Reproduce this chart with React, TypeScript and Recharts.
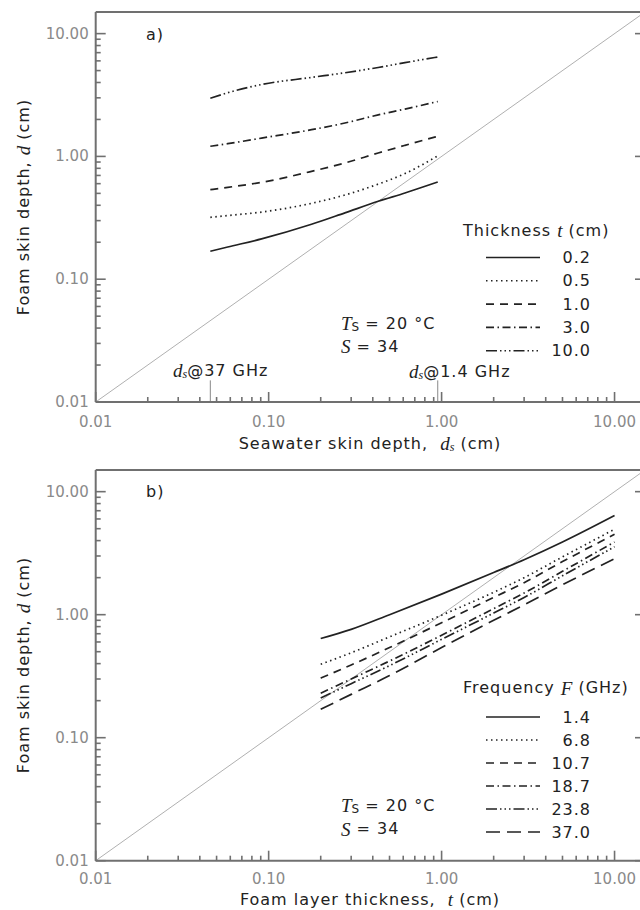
import { LineChart, Line, XAxis, YAxis, ReferenceLine, Customized } from 'recharts';

// panel a: foam skin depth vs seawater skin depth, one curve per foam thickness
const seawaterDepth = [0.046, 0.058, 0.091, 0.177, 0.276, 0.43, 0.614, 0.95];
const thicknessLabels = ['0.2', '0.5', '1.0', '3.0', '10.0'];
const depthT02 = [0.169, 0.183, 0.213, 0.28, 0.347, 0.431, 0.504, 0.619];
const depthT05 = [0.319, 0.33, 0.352, 0.415, 0.485, 0.595, 0.725, 1.01];
const depthT10 = [0.536, 0.56, 0.615, 0.755, 0.884, 1.066, 1.23, 1.46];
const depthT30 = [1.21, 1.27, 1.41, 1.65, 1.87, 2.18, 2.43, 2.8];
const depthT100 = [2.98, 3.3, 3.85, 4.4, 4.8, 5.3, 5.8, 6.45];

// panel b: foam skin depth vs foam thickness, one curve per frequency
const foamThickness = [0.2, 0.3, 0.5, 1, 2, 3, 5, 10];
const frequencyLabels = ['1.4', '6.8', '10.7', '18.7', '23.8', '37.0'];
const depthF14 = [0.64, 0.76, 1.0, 1.47, 2.2, 2.8, 3.9, 6.4];
const depthF68 = [0.395, 0.49, 0.66, 0.99, 1.52, 2.0, 2.95, 4.95];
const depthF107 = [0.305, 0.39, 0.54, 0.86, 1.38, 1.82, 2.7, 4.5];
const depthF187 = [0.23, 0.3, 0.42, 0.68, 1.12, 1.5, 2.25, 3.9];
const depthF238 = [0.21, 0.275, 0.385, 0.63, 1.03, 1.38, 2.07, 3.57];
const depthF370 = [0.17, 0.225, 0.32, 0.54, 0.9, 1.2, 1.75, 2.85];

// seawater skin depth markers on panel a
const markerDepths = [0.046, 0.95];
const markerFreqs = ['37', '1.4'];

const majorTicks = [0.01, 0.1, 1, 10];
const minorSteps = [2, 3, 4, 5, 6, 7, 8, 9];
const axisMin = 0.01;
const axisMax = 15;

const DASH: Record<string, string | undefined> = {
  solid: undefined,
  dotted: '1.5 3.5',
  dashed: '8 6',
  dashDot: '8 3.5 1.5 3.5',
  dashDot3: '11 3 1.5 3 1.5 3 1.5 3',
  longDash: '14 7',
};

const INK = '#222';
const AXIS = '#707070';
const TICK_TEXT = '#8a8a8a';
const SANS = '"DejaVu Sans", sans-serif';
const SERIF = '"Liberation Serif", serif';

const tickValues = [
  ...majorTicks,
  ...majorTicks.slice(0, 3).flatMap((d) => minorSteps.map((k) => +(k * d).toPrecision(3))),
].sort((a, b) => a - b);

type Side = 'bottom' | 'top' | 'left' | 'right';

function makeTick(side: Side, labelGap = 19) {
  return (props: any) => {
    const { x, y, payload } = props;
    const v = payload.value as number;
    const major = majorTicks.some((m) => Math.abs(m - v) < 1e-9);
    const len = major ? 10 : 5;
    let x2 = x;
    let y2 = y;
    if (side === 'bottom') y2 = y - len;
    if (side === 'top') y2 = y + len;
    if (side === 'left') x2 = x + len;
    if (side === 'right') x2 = x - len;
    const label = v.toFixed(2);
    return (
      <g>
        <line x1={x} y1={y} x2={x2} y2={y2} stroke={AXIS} strokeWidth={1.6} />
        {major && side === 'bottom' && (
          <text x={x} y={y + labelGap} textAnchor="middle" dominantBaseline="central"
            fontFamily={SANS} fontSize={15} fill={TICK_TEXT}>{label}</text>
        )}
        {major && side === 'left' && (
          <text x={x - 7} y={y} textAnchor="end" dominantBaseline="central"
            fontFamily={SANS} fontSize={15} fill={TICK_TEXT}>{label}</text>
        )}
      </g>
    );
  };
}

interface Series { key: string; label: string; values: number[]; dash?: string }

interface PanelText {
  tag: string;
  tagY: number;
  yTitleY: number;
  xTitleY: number;
  condY: number;
  legendTitle: 'thickness' | 'frequency';
  legendTitleY: number;
  legendY0: number;
  legendStep: number;
  xTitle: 'seawater' | 'foam';
  markers: boolean;
}

const txt = { fontFamily: SANS, fontSize: 16, fill: INK, letterSpacing: 1, whiteSpace: 'pre' as const };
const ital = { fontFamily: SERIF, fontStyle: 'italic' as const, fontSize: 19, letterSpacing: 0 };

function Annotations({ cfg, series }: { cfg: PanelText; series: Series[] }) {
  return (
    <g>
      <text x={146} y={cfg.tagY} dominantBaseline="central" style={txt}>{cfg.tag}</text>

      <text x={23} y={cfg.yTitleY} textAnchor="middle" dominantBaseline="central" style={txt}
        transform={`rotate(-90, 23, ${cfg.yTitleY})`}>
        Foam skin depth, <tspan style={ital}>d</tspan> (cm)
      </text>

      {cfg.xTitle === 'seawater' ? (
        <text x={370} y={cfg.xTitleY} textAnchor="middle" dominantBaseline="central" style={txt}>
          {'Seawater skin depth,  '}
          <tspan style={ital}>d</tspan>
          <tspan style={{ ...ital, fontSize: 12 }} dy={4}>s</tspan>
          <tspan dy={-4}>{' (cm)'}</tspan>
        </text>
      ) : (
        <text x={370} y={cfg.xTitleY} textAnchor="middle" dominantBaseline="central" style={txt}>
          {'Foam layer thickness,  '}
          <tspan style={ital}>t</tspan>
          {' (cm)'}
        </text>
      )}

      <text x={341} y={cfg.condY} dominantBaseline="central" style={txt}>
        <tspan style={ital}>T</tspan>
        <tspan style={{ fontSize: 12, letterSpacing: 0 }} dy={4}>S</tspan>
        <tspan dy={-4}>{' = 20 °C'}</tspan>
      </text>
      <text x={341} y={cfg.condY + 23.3} dominantBaseline="central" style={txt}>
        <tspan style={ital}>S</tspan>
        {' = 34'}
      </text>

      {cfg.markers && (
        <>
          <text x={173} y={370} dominantBaseline="central" style={txt}>
            <tspan style={ital}>d</tspan>
            <tspan style={{ ...ital, fontSize: 12 }} dy={4}>s</tspan>
            <tspan dy={-4}>{`@${markerFreqs[0]} GHz`}</tspan>
          </text>
          <text x={409} y={371} dominantBaseline="central" style={txt}>
            <tspan style={ital}>d</tspan>
            <tspan style={{ ...ital, fontSize: 12 }} dy={4}>s</tspan>
            <tspan dy={-4}>{`@${markerFreqs[1]} GHz`}</tspan>
          </text>
        </>
      )}

      {/* legend */}
      <text x={463} y={cfg.legendTitleY} dominantBaseline="central" style={txt}>
        {cfg.legendTitle === 'thickness' ? 'Thickness ' : 'Frequency '}
        <tspan style={ital}>{cfg.legendTitle === 'thickness' ? 't' : 'F'}</tspan>
        {cfg.legendTitle === 'thickness' ? ' (cm)' : ' (GHz)'}
      </text>
      {series.map((s, i) => {
        const y = cfg.legendY0 + i * cfg.legendStep;
        return (
          <g key={s.key}>
            <line x1={486} x2={540} y1={y} y2={y} stroke={INK} strokeWidth={1.6} strokeDasharray={s.dash} />
            <text x={591} y={y} textAnchor="end" dominantBaseline="central" style={txt}>{s.label}</text>
          </g>
        );
      })}
    </g>
  );
}

function Panel({ top, plotTop, plotBottom, xs, series, cfg }: {
  top: number; plotTop: number; plotBottom: number; xs: number[]; series: Series[]; cfg: PanelText;
}) {
  const W = 700;
  const H = 460;
  const plotLeft = 95.7;
  const plotRight = 645;
  const rows = xs.map((x, j) => {
    const row: Record<string, number> = { x };
    series.forEach((s) => { row[s.key] = s.values[j]; });
    return row;
  });
  const common = { type: 'number' as const, scale: 'log' as const, domain: [axisMin, axisMax], allowDataOverflow: true, ticks: tickValues, interval: 0 as const, tickLine: false, tickSize: 0, tickMargin: 0, axisLine: { stroke: AXIS, strokeWidth: 2 } };
  return (
    <div style={{ position: 'absolute', left: 0, top }}>
      <LineChart width={W} height={H} data={rows}
        margin={{ top: plotTop - 1, left: plotLeft - 1, right: W - plotRight - 1, bottom: H - plotBottom - 1 }}>
        <XAxis xAxisId={0} dataKey="x" orientation="bottom" height={1} {...common} tick={makeTick('bottom', cfg.markers ? 20 : 18)} />
        <XAxis xAxisId="top" orientation="top" height={1} {...common} tick={makeTick('top')} />
        <YAxis yAxisId={0} orientation="left" width={1} {...common} tick={makeTick('left')} />
        <YAxis yAxisId="right" orientation="right" width={1} {...common} tick={makeTick('right')} />
        <ReferenceLine segment={[{ x: axisMin, y: axisMin }, { x: axisMax, y: axisMax }]} stroke="#b0b0b0" strokeWidth={1} />
        {cfg.markers && markerDepths.map((d) => (
          <ReferenceLine key={d} segment={[{ x: d, y: axisMin }, { x: d, y: 0.015 }]} stroke="#888" strokeWidth={1} />
        ))}
        {series.map((s) => (
          <Line key={s.key} dataKey={s.key} type="monotone" stroke={INK} strokeWidth={1.7}
            strokeDasharray={s.dash} dot={false} activeDot={false} isAnimationActive={false} />
        ))}
        <Customized component={<Annotations cfg={cfg} series={series} />} />
      </LineChart>
    </div>
  );
}

const seriesA: Series[] = [depthT02, depthT05, depthT10, depthT30, depthT100].map((values, i) => ({
  key: `t${i}`,
  label: thicknessLabels[i],
  values,
  dash: [DASH.solid, DASH.dotted, DASH.dashed, DASH.dashDot, DASH.dashDot3][i],
}));

const seriesB: Series[] = [depthF14, depthF68, depthF107, depthF187, depthF238, depthF370].map((values, i) => ({
  key: `f${i}`,
  label: frequencyLabels[i],
  values,
  dash: [DASH.solid, DASH.dotted, DASH.dashed, DASH.dashDot, DASH.dashDot3, DASH.longDash][i],
}));

const textA: PanelText = {
  tag: 'a)', tagY: 34, yTitleY: 207, xTitleY: 443, condY: 323,
  legendTitle: 'thickness', legendTitleY: 230, legendY0: 257.5, legendStep: 23.3,
  xTitle: 'seawater', markers: true,
};

const textB: PanelText = {
  tag: 'b)', tagY: 41.7, yTitleY: 215, xTitleY: 449, condY: 355.4,
  legendTitle: 'frequency', legendTitleY: 237.6, legendY0: 267, legendStep: 23,
  xTitle: 'foam', markers: false,
};

export default function App() {
  return (
    <div style={{ position: 'fixed', left: 0, top: 0, width: 640, height: 910, overflow: 'hidden', background: '#fff' }}>
      <Panel top={0} plotTop={12} plotBottom={402} xs={seawaterDepth} series={seriesA} cfg={textA} />
      <Panel top={450} plotTop={20} plotBottom={410.7} xs={foamThickness} series={seriesB} cfg={textB} />
    </div>
  );
}
